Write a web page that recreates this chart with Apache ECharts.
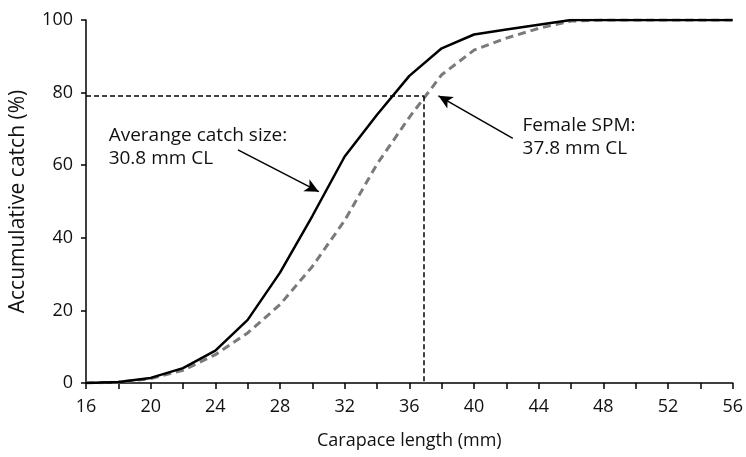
<!DOCTYPE html>
<html><head><meta charset="utf-8">
<script src="https://cdn.jsdelivr.net/npm/echarts@6/dist/echarts.min.js"></script>
<style>html,body{margin:0;padding:0;background:#fff}#c{width:746px;height:457px}</style>
</head><body><div id="c"></div>
<script>
const lengths = [16,18,20,22,24,26,28,30,32,34,36,38,40,42,44,46,48,50,52,54,56];
const catchAll = [0,0.3,1.4,4.1,8.9,17.4,30.4,46,62.4,73.9,84.6,92.2,96,97.4,98.7,100,100,100,100,100,100];
const catchFemale = [0,0.2,1.2,3.5,7.8,13.8,21.6,32.1,44.8,60.3,73.2,84.9,91.7,95,97.7,99.7,100,100,100,100,100];
const refX = 36.9, refY = 79;
const xTicks = [16,20,24,28,32,36,40,44,48,52,56];
const yTicks = [0,20,40,60,80,100];
const note1 = ['Averange catch size:','30.8 mm CL'];
const note2 = ['Female SPM:','37.8 mm CL'];
const arrow1 = [[25.4,64.2],[30.4,52.7]];
const arrow2 = [[42.4,67.4],[37.8,79.1]];
const note1Pos = [17.4,64.9];
const note2Pos = [43.0,67.7];

const FONT = '"Open Sans"';
const chart = echarts.init(document.getElementById('c'));
const pair = a => a.map((v,i)=>[lengths[i],v]);
chart.setOption({
  animation:false,
  grid:{left:81,right:11,top:20,bottom:74},
  xAxis:{type:'value',min:16,max:56,interval:2,
    name:'Carapace length (mm)',nameLocation:'middle',nameGap:49,
    nameTextStyle:{fontFamily:FONT,fontSize:18,color:'#111'},
    axisLine:{lineStyle:{color:'#000',width:1.5}},
    axisTick:{show:true,length:6,lineStyle:{color:'#000',width:1.5}},
    axisLabel:{fontFamily:FONT,fontSize:18,color:'#111',margin:15,
      formatter:v=>xTicks.includes(v)?String(v):''},
    splitLine:{show:false}},
  yAxis:{type:'value',min:0,max:100,interval:20,
    name:'Accumulative catch (%)',nameLocation:'middle',nameGap:57,
    nameTextStyle:{fontFamily:FONT,fontSize:21,color:'#111'},
    axisLine:{show:true,lineStyle:{color:'#000',width:1.5}},
    axisTick:{show:true,length:5,lineStyle:{color:'#000',width:1.5}},
    axisLabel:{fontFamily:FONT,fontSize:18,color:'#111',margin:13,
      formatter:v=>yTicks.includes(v)?String(v):''},
    splitLine:{show:false}},
  series:[
    {type:'line',data:pair(catchFemale),symbol:'none',
      lineStyle:{color:'#7a7a7a',width:3,type:[8,5]}, z:2},
    {type:'line',data:pair(catchAll),symbol:'none',
      lineStyle:{color:'#000',width:2.5}, z:3,
      markLine:{silent:true,symbol:['none','none'],label:{show:false},
        lineStyle:{color:'#000',width:1.5,type:[5,3]},
        data:[
          [{coord:[16,refY]},{coord:[refX,refY]}],
          [{coord:[refX,refY]},{coord:[refX,0]}],
          [{coord:arrow1[0],symbol:'none'},{coord:arrow1[1],symbol:'arrow',symbolSize:[10,14],lineStyle:{type:'solid',width:1.5}}],
          [{coord:arrow2[0],symbol:'none'},{coord:arrow2[1],symbol:'arrow',symbolSize:[10,14],lineStyle:{type:'solid',width:1.5}}]
        ]},
      markPoint:{silent:true,symbol:'circle',symbolSize:0,
        label:{show:true,position:'right',distance:0,fontFamily:FONT,fontSize:19,color:'#111',lineHeight:23,align:'left'},
        data:[
          {coord:note1Pos,value:0,label:{formatter:note1.join('\n')}},
          {coord:note2Pos,value:0,label:{formatter:note2.join('\n')}}
        ]}
    }
  ]
});
</script></body></html>
